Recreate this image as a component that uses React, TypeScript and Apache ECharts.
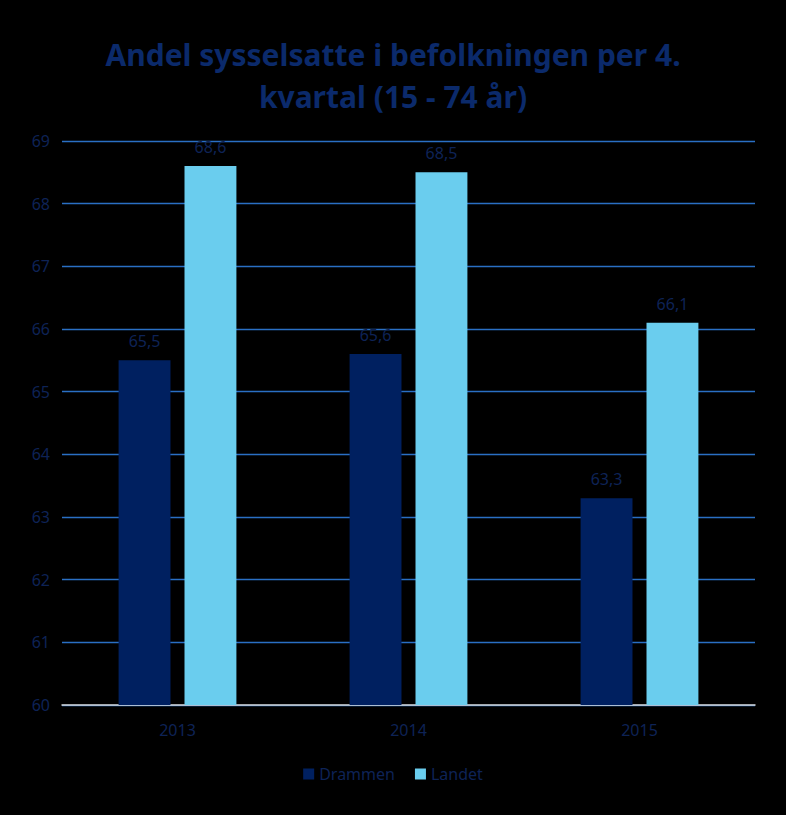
import React, { useEffect, useRef } from "react";
import * as echarts from "echarts";

const categories = ["2013", "2014", "2015"];
const drammen = [65.5, 65.6, 63.3];
const landet = [68.6, 68.5, 66.1];
const seriesNames = ["Drammen", "Landet"];

const textColor = "#0E2356";
const font = "Noto Sans, sans-serif";

export default function App() {
  const ref = useRef<HTMLDivElement>(null);
  useEffect(() => {
    if (!ref.current) return;
    document.body.style.margin = "0";
    document.body.style.background = "#000";
    const chart = echarts.init(ref.current, null, { renderer: "svg" });
    const fmt = (p: any) => String(p.value).replace(".", ",");
    chart.setOption({
      animation: false,
      backgroundColor: "#000000",
      title: {
        text: "Andel sysselsatte i befolkningen per 4.\nkvartal (15 - 74 år)",
        left: "center",
        top: 28,
        textStyle: {
          color: "#0B2A6B",
          fontSize: 30,
          fontWeight: "bold",
          fontFamily: font,
          lineHeight: 42,
        },
      },
      legend: {
        data: seriesNames,
        bottom: 28,
        left: "center",
        itemWidth: 11,
        itemHeight: 11,
        itemGap: 20,
        icon: "rect",
        textStyle: { color: textColor, fontSize: 16, fontFamily: font },
      },
      grid: { left: 62, right: 31, top: 141, bottom: 110 },
      xAxis: {
        type: "category",
        data: categories,
        axisLine: { lineStyle: { color: "#D9D9D9", width: 1.5 } },
        axisTick: { show: false },
        axisLabel: { color: textColor, fontSize: 16, margin: 17, fontFamily: font },
      },
      yAxis: {
        type: "value",
        min: 60,
        max: 69,
        interval: 1,
        axisLine: { show: false },
        axisTick: { show: false },
        axisLabel: { color: textColor, fontSize: 16, margin: 12, fontFamily: font },
        splitLine: { lineStyle: { color: "#2A6FC4", width: 1.3 } },
      },
      series: [
        {
          name: seriesNames[0],
          type: "bar",
          data: drammen,
          barGap: "27%",
          barCategoryGap: "49%",
          itemStyle: { color: "#002060" },
          label: { show: true, position: "top", distance: 11, color: textColor, fontSize: 16, formatter: fmt, fontFamily: font },
        },
        {
          name: seriesNames[1],
          type: "bar",
          data: landet,
          barGap: "27%",
          barCategoryGap: "49%",
          itemStyle: { color: "#6ACDEE" },
          label: { show: true, position: "top", distance: 11, color: textColor, fontSize: 16, formatter: fmt, fontFamily: font },
        },
      ],
    });
    return () => chart.dispose();
  }, []);
  return <div ref={ref} style={{ width: 786, height: 815 }} />;
}
